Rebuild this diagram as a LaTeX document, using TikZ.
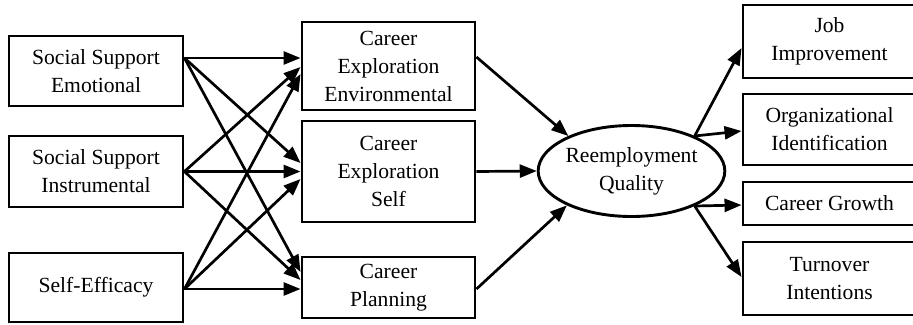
\documentclass[tikz,border=0pt]{standalone}
\usepackage{fontspec}
\setmainfont{Liberation Serif}
\usetikzlibrary{arrows.meta,shapes.geometric,calc}

\tikzset{
  box/.style={draw, line width=2.9pt, rectangle, inner sep=0pt, align=center,
              font=\fontsize{21.6}{28}\selectfont},
  oval/.style={draw, line width=2.9pt, ellipse, inner sep=0pt, align=center,
               font=\fontsize{21.6}{28}\selectfont},
  link/.style={line width=2.7pt, -{Triangle[length=17pt,width=13pt]}},
}

\begin{document}
\begin{tikzpicture}[x=1pt, y=-1pt]
  \useasboundingbox (0,0) rectangle (913,324);
  \clip (0,0) rectangle (913,324);

  % predictors
  \node[box, minimum width=174pt, minimum height=70pt] (sse) at (96,71)
    {Social Support\\Emotional};
  \node[box, minimum width=174pt, minimum height=71pt] (ssi) at (96,171.5)
    {Social Support\\Instrumental};
  \node[box, minimum width=174pt, minimum height=69pt] (se) at (96,287.5)
    {Self-Efficacy};

  % mediators
  \node[box, minimum width=173pt, minimum height=88pt] (cee) at (388.5,66)
    {Career\\Exploration\\Environmental};
  \node[box, minimum width=173pt, minimum height=101pt] (ces) at (388.5,171.5)
    {Career\\Exploration\\Self};
  \node[box, minimum width=173pt, minimum height=61pt] (cp) at (388.5,287.5)
    {Career\\Planning};

  % outcome
  \node[oval, minimum width=183pt, minimum height=91pt] (rq) at (631.5,171)
    {Reemployment\\Quality};

  % dimensions of the outcome
  \node[box, minimum width=173pt, minimum height=73pt] (job) at (829.5,41.5)
    {Job\\Improvement};
  \node[box, minimum width=173pt, minimum height=71pt] (org) at (829.5,129.5)
    {Organizational\\Identification};
  \node[box, minimum width=173pt, minimum height=43pt] (cg) at (829.5,203.5)
    {Career Growth};
  \node[box, minimum width=173pt, minimum height=73pt] (ti) at (829.5,278.5)
    {Turnover\\Intentions};

  % predictors -> mediators
  \coordinate (sseo) at ([yshift=13pt]sse.east);
  \draw[link] (sseo) -- ([yshift=8pt]cee.west);
  \draw[link] (sseo) -- ([yshift=8.5pt]ces.west);
  \draw[link] (sseo) -- ([yshift=15.5pt]cp.west);

  \draw[link] (ssi.east) -- ([yshift=-1pt]cee.west);
  \draw[link] (ssi.east) -- (ces.west);
  \draw[link] (ssi.east) -- ([yshift=7.5pt]cp.west);

  \coordinate (seo) at ([yshift=-1.5pt]se.east);
  \draw[link] (seo) -- ([yshift=-8pt]cee.west);
  \draw[link] (seo) -- ([yshift=-7.5pt]ces.west);
  \draw[link] (seo) -- ([yshift=-1.5pt]cp.west);

  % mediators -> outcome
  \draw[link] ([yshift=9pt]cee.east) -- (rq.151);
  \draw[link] (ces.east) -- (rq.west);
  \draw[link] ([yshift=-1.5pt]cp.east) -- (rq.208);

  % outcome -> dimensions
  \draw[link] (rq.29) -- ([yshift=-6.5pt]job.west);
  \draw[link] (rq.29) -- ([yshift=-1.5pt]org.west);
  \draw[link] (rq.-29) -- ([yshift=-1.5pt]cg.west);
  \draw[link] (rq.-29) -- ([yshift=1.5pt]ti.west);
\end{tikzpicture}
\end{document}
